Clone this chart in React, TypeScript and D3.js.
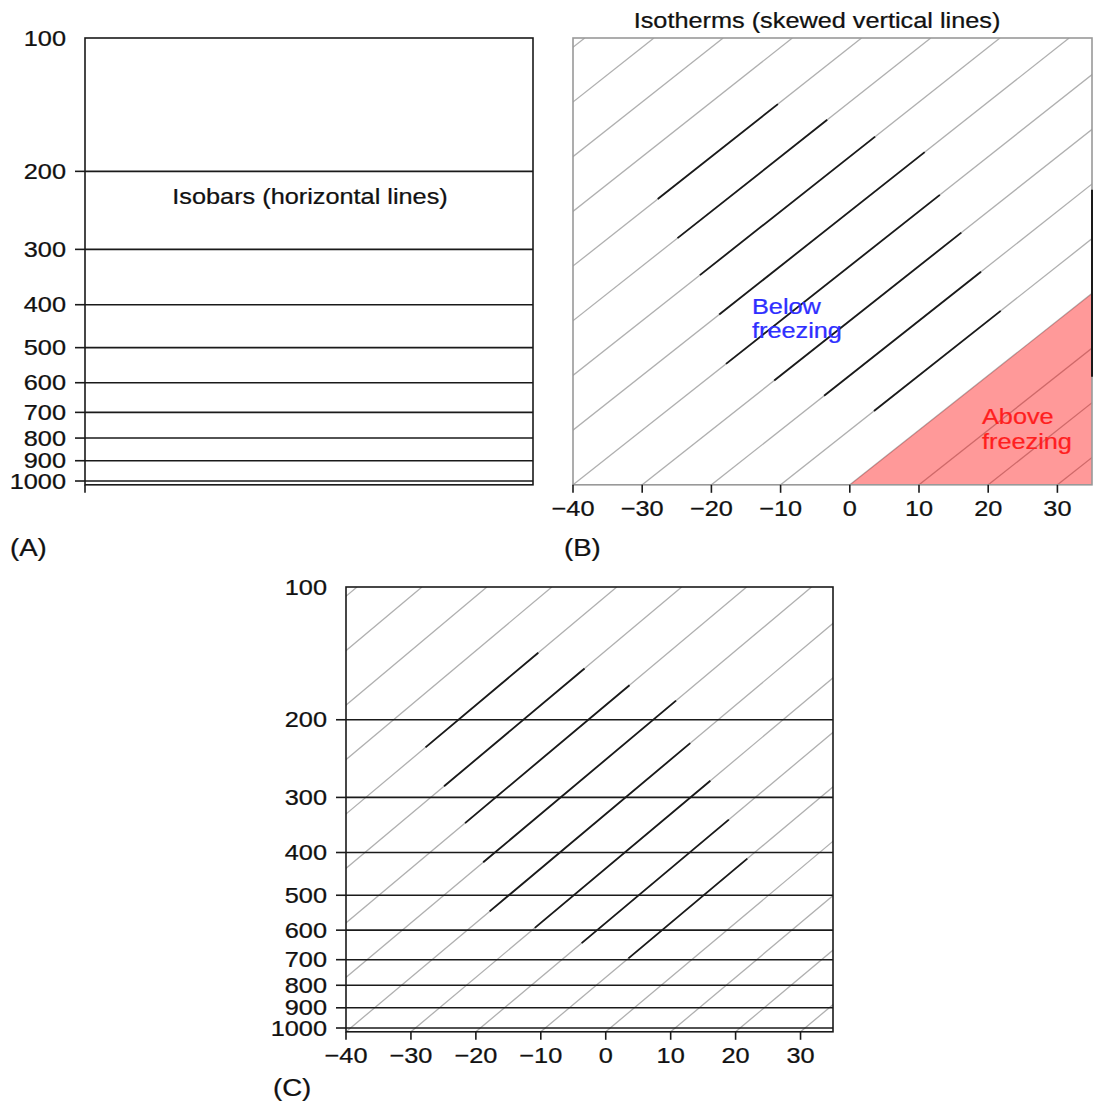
import * as d3 from 'd3';

// pressure levels (hPa) and temperature ticks (degC)
const pressureLevels = [100, 200, 300, 400, 500, 600, 700, 800, 900, 1000];
const tempTicks = [-40, -30, -20, -10, 0, 10, 20, 30];
const isothermTemps = [-130, -120, -110, -100, -90, -80, -70, -60, -50, -40, -30, -20, -10, 0, 10, 20, 30];

// darker stretches of some isotherms (temperature, lower and upper pressure)
const boldTemps = [-80, -70, -60, -50, -40, -30, -20, -10];
const boldBottomP = [231, 283, 343, 421, 544, 593, 642, 695];
const boldTopP = [141, 153, 167, 181, 226, 275, 337, 413];
const edgeBoldP = [220, 582];

const P_TOP = 100;
const P_BOTTOM = 1020;
const T_MIN = -40;
const T_MAX = 35;
const SKEW = 81; // degC shift per decade of pressure

const SX = 1.15;
const FONT = "'Liberation Sans', Arial, Helvetica, sans-serif";

type Geo = { left: number; right: number; top: number; decade: number };

const geoA: Geo = { left: 85, right: 533, top: 38, decade: 443 };
const geoB: Geo = { left: 573, right: 1092, top: 38, decade: 443 };
const geoC: Geo = { left: 346, right: 833, top: 587, decade: 441 };

function makeScales(g: Geo) {
  const y = d3.scaleLog()
    .domain([P_TOP, P_BOTTOM])
    .range([g.top, g.top + g.decade * Math.log10(P_BOTTOM / P_TOP)]);
  const x = d3.scaleLinear().domain([T_MIN, T_MAX]).range([g.left, g.right]);
  const skewX = (t: number, p: number) => x(t + SKEW * Math.log10(P_BOTTOM / p));
  return { x, y, skewX };
}

function Txt({ x, y, anchor = 'start', fill = '#111', size = 22, children }: any) {
  return (
    <text
      transform={`translate(${x},${y}) scale(${SX},1)`}
      textAnchor={anchor}
      fill={fill}
      stroke={fill}
      strokeWidth={0.25}
      fontSize={size}
      fontFamily={FONT}
    >
      {children}
    </text>
  );
}

const fmtT = (t: number) => (t < 0 ? '\u2212' : '') + Math.abs(t);

function Panel({ id, geo, isobars, isotherms, xAxis, yAxis, freezing }: any) {
  const { x, y, skewX } = makeScales(geo);
  const line = d3.line();
  const bottom = y(P_BOTTOM);
  const top = y(P_TOP);
  const boxColor = isobars ? '#1a1a1a' : '#999';

  const isoPath = (t: number, p0: number, p1: number) =>
    line([[skewX(t, p0), y(p0)], [skewX(t, p1), y(p1)]]) as string;

  const pHit = P_BOTTOM / Math.pow(10, (T_MAX - 0) / SKEW);
  const warmArea = line([
    [x(0), bottom],
    [x(T_MAX), bottom],
    [x(T_MAX), y(pHit)],
  ]) + 'Z';

  return (
    <g>
      <defs>
        <clipPath id={id}>
          <rect x={geo.left} y={top} width={geo.right - geo.left} height={bottom - top} />
        </clipPath>
      </defs>

      <g clipPath={`url(#${id})`}>
        {isotherms && isothermTemps.map(t => (
          <path key={t} d={isoPath(t, P_BOTTOM, P_TOP)} stroke="#b0b0b0" strokeWidth={1.3} fill="none" />
        ))}
        {isotherms && boldTemps.map((t, i) => (
          <path key={'b' + t} d={isoPath(t, boldBottomP[i], boldTopP[i])} stroke="#1a1a1a" strokeWidth={1.8} fill="none" />
        ))}
        {freezing && <path d={warmArea} fill="rgb(255,0,0)" fillOpacity={0.4} />}
      </g>

      {isobars && pressureLevels.slice(1).map(p => (
        <line key={p} x1={geo.left} x2={geo.right} y1={y(p)} y2={y(p)} stroke="#1a1a1a" strokeWidth={1.6} />
      ))}

      <rect x={geo.left} y={top} width={geo.right - geo.left} height={bottom - top}
        fill="none" stroke={boxColor} strokeWidth={1.6} />
      {freezing && (
        <line x1={geo.right} x2={geo.right} y1={y(edgeBoldP[0])} y2={y(edgeBoldP[1])} stroke="#1a1a1a" strokeWidth={2} />
      )}

      {yAxis && pressureLevels.map(p => (
        <g key={p}>
          {p !== P_TOP && <line x1={geo.left - 10} x2={geo.left} y1={y(p)} y2={y(p)} stroke="#1a1a1a" strokeWidth={1.6} />}
          <Txt x={geo.left - 19} y={y(p) + 7.5} anchor="end">{p}</Txt>
        </g>
      ))}

      {xAxis ? tempTicks.map(t => (
        <g key={t}>
          <line x1={x(t)} x2={x(t)} y1={bottom} y2={bottom + 8} stroke="#1a1a1a" strokeWidth={1.6} />
          <Txt x={x(t)} y={bottom + 31} anchor="middle">{fmtT(t)}</Txt>
        </g>
      )) : (
        <line x1={x(T_MIN)} x2={x(T_MIN)} y1={bottom} y2={bottom + 8} stroke="#1a1a1a" strokeWidth={1.6} />
      )}

      {freezing && (
        <g>
          <Txt x={752} y={314} fill="#2f2fff">Below</Txt>
          <Txt x={752} y={338} fill="#2f2fff">freezing</Txt>
          <Txt x={982} y={424} fill="#ff1f1f">Above</Txt>
          <Txt x={982} y={449} fill="#ff1f1f">freezing</Txt>
        </g>
      )}
    </g>
  );
}

export default function App() {
  return (
    <svg width={1094} height={1105} style={{ position: 'absolute', left: 0, top: 0, background: '#fff' }}>
      <rect width={1094} height={1105} fill="#fff" />
      <Panel id="clipA" geo={geoA} isobars yAxis />
      <Panel id="clipB" geo={geoB} isotherms xAxis freezing />
      <Panel id="clipC" geo={geoC} isobars isotherms xAxis yAxis />

      <Txt x={310} y={204} anchor="middle">Isobars (horizontal lines)</Txt>
      <Txt x={817} y={28} anchor="middle">Isotherms (skewed vertical lines)</Txt>
      <Txt x={10} y={556} size={24}>(A)</Txt>
      <Txt x={564} y={556} size={24}>(B)</Txt>
      <Txt x={273} y={1096} size={24}>(C)</Txt>
    </svg>
  );
}
